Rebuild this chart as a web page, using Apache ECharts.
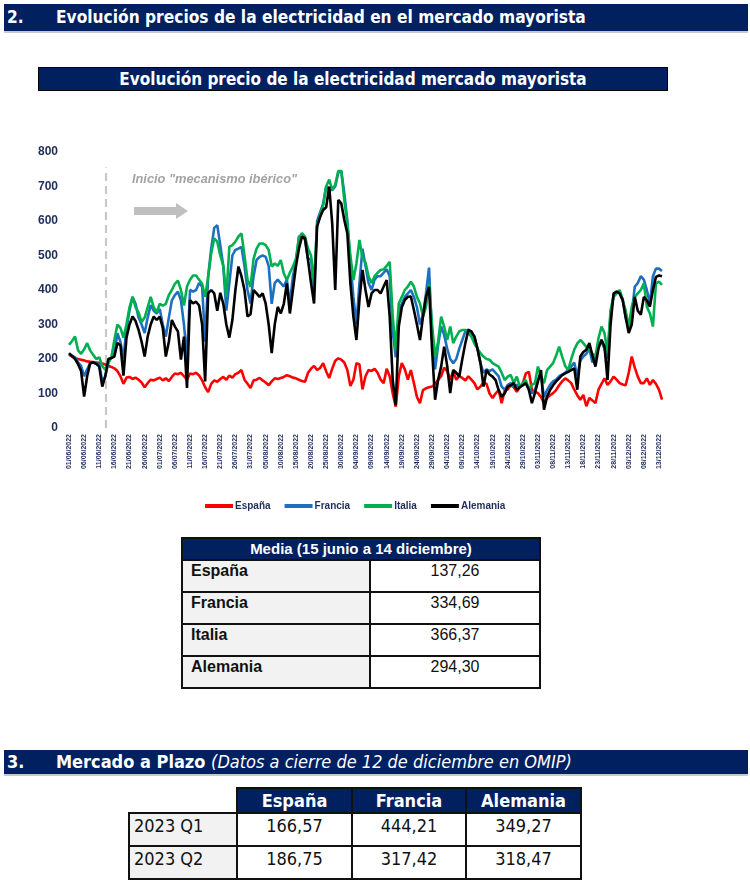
<!DOCTYPE html>
<html><head><meta charset="utf-8">
<script src="https://cdn.jsdelivr.net/npm/echarts/dist/echarts.min.js"></script>
<style>
html,body{margin:0;padding:0;background:#fff;}
body{width:750px;height:885px;position:relative;overflow:hidden;font-family:'Liberation Sans',Arial,sans-serif;}
.bar{position:absolute;left:4px;width:744px;background:#002060;color:#fff;font-weight:bold;font-family:'Liberation Sans Narrow','DejaVu Sans Condensed',sans-serif;box-shadow:0 2px 0 #c9c9c9;}
.bar span{position:absolute;top:0;white-space:nowrap;}
#ctitle{position:absolute;left:38px;top:67px;width:628px;height:22px;border:1px solid #000;background:#002060;color:#fff;text-align:center;font:bold 17px/22px 'Liberation Sans Narrow','DejaVu Sans Condensed',sans-serif;}
#chart{position:absolute;left:0;top:95px;width:750px;height:430px;}
table{position:absolute;border-collapse:collapse;}
#t1{left:181px;top:537px;width:360px;}
#t1 th{background:#002060;color:#fff;font:bold 15px/18px 'Liberation Sans',Arial,sans-serif;height:20px;border:2px solid #111;padding:0;}
#t1 td{border:2px solid #111;height:29px;vertical-align:top;padding:1px 0 0 0;font-size:16px;line-height:18px;color:#111;}
#t1 td.l{background:#f2f2f2;font-weight:bold;padding-left:8px;width:178px;}
#t1 td.v{text-align:center;}
#t2{left:128px;top:787px;font-family:'Liberation Sans Narrow','DejaVu Sans Condensed',sans-serif;}
#t2 th{background:#002060;color:#fff;font-weight:bold;font-size:18px;height:23px;border:2px solid #111;padding:0;line-height:20px;}
#t2 th.e{background:#fff;border:none;border-bottom:2px solid #111;}
#t2 td{border:2px solid #111;height:29px;vertical-align:top;padding:2px 0 0 0;font-size:18px;line-height:20px;color:#111;text-align:center;}
#t2 td.l{background:#f2f2f2;text-align:left;padding-left:4px;}
</style></head>
<body>
<div class="bar" style="top:4px;height:27px;font-size:17.2px;line-height:27px;"><span style="left:3px">2.</span><span style="left:52px">Evolución precios de la electricidad en el mercado mayorista</span></div>
<div id="ctitle">Evolución precio de la electricidad mercado mayorista</div>
<div id="chart"></div>
<table id="t1">
<tr><th colspan="2">Media (15 junio a 14 diciembre)</th></tr>
<tr><td class="l">España</td><td class="v">137,26</td></tr>
<tr><td class="l">Francia</td><td class="v">334,69</td></tr>
<tr><td class="l">Italia</td><td class="v">366,37</td></tr>
<tr><td class="l">Alemania</td><td class="v">294,30</td></tr>
</table>
<div class="bar" style="top:750px;height:24px;font-size:18px;line-height:24px;"><span style="left:3px">3.</span><span style="left:52px">Mercado a Plazo <i style="font-weight:normal">(Datos a cierre de 12 de diciembre en OMIP)</i></span></div>
<table id="t2">
<tr><th class="e" style="width:107px"></th><th style="width:113px">España</th><th style="width:112px">Francia</th><th style="width:113px">Alemania</th></tr>
<tr><td class="l">2023 Q1</td><td>166,57</td><td>444,21</td><td>349,27</td></tr>
<tr><td class="l">2023 Q2</td><td>186,75</td><td>317,42</td><td>318,47</td></tr>
</table>
<script>
// Daily categories 01/06/2022 .. 14/12/2022
const months = [['06',30],['07',31],['08',31],['09',30],['10',31],['11',30],['12',14]];
const dates = [];
months.forEach(function(m){ for(let d=1; d<=m[1]; d++){ dates.push((d<10?'0':'')+d+'/'+m[0]+'/2022'); } });

const yTicks = [0,100,200,300,400,500,600,700,800];
const seriesNames = ['España','Francia','Italia','Alemania'];
const mechanismStart = '13/06/2022';

const espana = [
212,208,203,200,198,196,193,192,191,190,
189,187,184,180,177,173,165,150,128,146,
148,142,146,140,132,118,130,140,138,142,
146,138,144,136,148,158,156,160,150,140,
158,156,160,152,138,118,104,128,138,134,
142,148,140,152,146,156,160,168,140,128,
116,138,140,145,138,132,124,135,144,142,
145,148,153,150,146,144,140,136,134,160,
172,180,168,174,188,164,145,172,195,202,
198,190,168,122,140,188,184,112,150,168,
165,172,160,140,130,172,150,100,62,150,
188,170,140,168,130,90,72,110,115,118,
120,128,139,150,175,165,140,165,140,150,
145,138,150,140,130,112,120,132,128,100,
87,100,110,72,108,112,124,118,105,118,
130,158,163,111,105,101,90,72,87,95,
101,110,124,135,144,138,130,111,95,82,
96,63,87,80,72,111,128,144,125,135,
149,140,130,126,124,160,207,175,149,130,
130,144,125,139,128,111,82];

const francia = [
215,210,205,190,180,150,170,188,190,188,
185,135,150,190,205,215,275,250,200,290,
340,380,360,320,300,275,320,356,340,332,
345,300,265,320,370,385,395,370,300,200,
400,395,400,420,410,250,440,520,580,588,
530,470,340,420,500,516,520,525,470,400,
361,440,487,496,500,496,470,360,420,430,
420,410,430,360,440,480,555,560,545,490,
490,400,600,625,650,700,690,690,700,740,
745,680,600,480,380,300,420,520,470,420,
400,430,440,440,450,460,440,280,205,340,
360,380,390,400,380,350,300,330,390,465,
260,170,240,294,270,230,200,188,200,230,
255,280,285,275,265,230,188,160,170,165,
170,160,150,120,111,125,130,120,125,118,
125,130,118,100,110,140,150,90,110,125,
135,140,150,155,160,168,178,190,150,195,
207,215,230,190,205,240,250,230,200,330,
385,395,390,375,320,290,330,410,420,440,
430,400,360,440,462,462,455];

const italia = [
241,252,265,225,215,228,246,225,212,200,
205,180,168,188,205,255,300,290,262,300,
350,380,350,335,307,320,350,380,350,335,
360,355,360,385,400,418,427,400,355,410,
430,442,442,430,418,380,438,506,550,540,
500,470,380,525,530,540,555,564,500,430,
409,490,520,535,535,530,516,468,477,470,
487,448,429,450,468,490,550,565,555,520,
500,420,590,615,645,700,720,690,705,745,
745,660,593,500,429,477,545,494,480,440,
420,440,450,458,460,470,482,323,227,361,
380,400,410,424,410,380,361,323,351,419,
300,207,250,323,294,255,294,246,265,280,
284,284,275,265,245,230,217,207,200,198,
188,183,178,160,139,149,154,130,149,120,
130,139,111,125,130,178,150,130,168,178,
188,210,236,207,180,168,200,227,245,255,
246,235,227,215,207,260,294,275,217,342,
380,390,400,371,340,294,351,380,390,400,
419,351,332,294,419,424,415];

const alemania = [
217,208,200,185,165,91,150,188,190,186,
178,120,150,200,203,207,246,240,152,262,
300,323,310,284,250,207,265,300,323,313,
323,290,207,250,313,294,280,198,265,116,
371,361,366,355,300,135,390,400,390,340,
392,360,300,262,313,400,468,440,400,323,
330,400,390,380,390,361,300,217,300,351,
332,360,419,332,400,468,520,555,550,487,
420,361,584,612,632,640,700,593,400,661,
651,603,564,420,323,255,371,458,400,351,
390,400,400,390,410,429,323,139,66,294,
350,371,380,381,342,300,255,323,380,409,
227,82,140,178,236,180,101,168,160,149,
200,246,284,280,265,230,188,120,168,155,
149,139,110,91,100,120,124,130,111,118,
124,130,110,72,101,135,168,53,91,110,
124,135,144,153,158,163,168,173,111,207,
220,227,246,210,178,230,256,236,139,300,
390,395,390,370,320,275,300,380,340,328,
380,370,352,400,438,442,440];

const colors = ['#ff0000','#1f6fc0','#00b050','#000000'];
const navy = '#1f2d5c';
const seriesData = [espana, francia, italia, alemania];

const chart = echarts.init(document.getElementById('chart'));
const series = seriesNames.map(function(n,i){
  const s = {name:n, type:'line', data:seriesData[i], showSymbol:false, symbol:'none',
    lineStyle:{width:2.6, color:colors[i]}, itemStyle:{color:colors[i]}, z:2+i};
  if(i===0){
    s.markLine = {silent:true, symbol:'none', label:{show:false},
      lineStyle:{type:[8,5], color:'#c8c8c8', width:2.2},
      data:[[{coord:[mechanismStart, 0]},{coord:[mechanismStart, 755]}]]};
  }
  return s;
});
chart.setOption({
  animation:false,
  backgroundColor:'#fff',
  grid:{left:69, right:88, top:57, bottom:97, containLabel:false},
  legend:{data:seriesNames, left:200, top:401, icon:'rect', itemWidth:28, itemHeight:4, itemGap:14,
    textStyle:{fontSize:10, fontWeight:'bold', color:navy, fontFamily:'Liberation Sans', padding:[0,0,0,-3]}},
  xAxis:{type:'category', data:dates, boundaryGap:false,
    axisLine:{show:false}, axisTick:{show:false}, splitLine:{show:false},
    axisLabel:{interval:4, rotate:90, fontSize:7, fontWeight:'bold', color:navy, margin:6, fontFamily:'Liberation Sans'}},
  yAxis:{type:'value', min:yTicks[0], max:yTicks[yTicks.length-1], interval:100,
    axisLine:{show:false}, axisTick:{show:false}, splitLine:{show:false},
    axisLabel:{fontSize:12, fontWeight:'bold', color:navy, margin:11, fontFamily:'Liberation Sans'}},
  graphic:[
    {type:'text', left:132, top:78, style:{text:'Inicio "mecanismo ibérico"', fill:'#a3a3a3', font:'italic bold 12.8px "Liberation Sans", Arial, sans-serif'}},
    {type:'polygon', shape:{points:[[134,112],[176,112],[176,108],[188,116],[176,124],[176,120],[134,120]]}, style:{fill:'#bfbfbf'}}
  ],
  series:series
});
</script>
</body></html>
